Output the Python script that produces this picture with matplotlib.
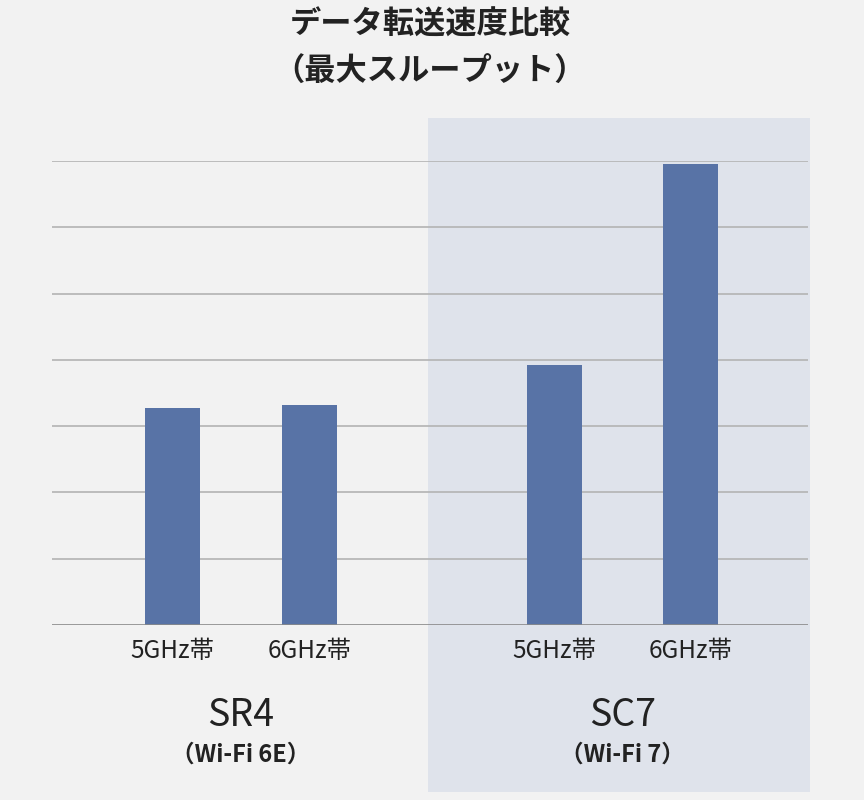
import matplotlib
matplotlib.use("Agg")
import matplotlib.pyplot as plt
from matplotlib.patches import Rectangle

plt.rcParams['font.family'] = ['Noto Sans CJK JP', 'DejaVu Sans']

# Data
title_lines = ["データ転送速度比較", "（最大スループット）"]
groups = ["SR4", "SC7"]
group_sub = ["（Wi-Fi 6E）", "（Wi-Fi 7）"]
bands = ["5GHz帯", "6GHz帯", "5GHz帯", "6GHz帯"]
values = [3.27, 3.32, 3.92, 6.95]   # in grid units
positions = [0.0, 1.0, 2.79, 3.78]

BG = "#f2f2f2"
SHADE = "#dfe3eb"
BAR = "#5873a6"

fig = plt.figure(figsize=(8.64, 8.0), dpi=100, facecolor=BG)
ax = fig.add_axes([52/864, 175/800, 756/864, 464/800])
ax.patch.set_visible(False)
ax.set_zorder(1)

# shaded region behind SC7 (figure coords)
fig.patches.append(Rectangle((428/864, 8/800), 382/864, 674/800,
                             transform=fig.transFigure, facecolor=SHADE,
                             edgecolor='none', zorder=-5))

ax.set_xlim(-0.88, 4.64)
ax.set_ylim(0, 7)
for g in range(1, 8):
    ax.axhline(g, color="#b3b3b3", lw=1.2, zorder=1)
ax.axhline(0, color="#8a8a8a", lw=1.2, zorder=3)

ax.bar(positions, values, width=0.40, color=BAR, zorder=2)

for s in ax.spines.values():
    s.set_visible(False)
ax.set_yticks([])
ax.set_xticks(positions)
ax.set_xticklabels(bands, fontsize=17.5, color="#222222")
ax.tick_params(axis='x', length=0, pad=9)

# group labels
centers = [(positions[0] + positions[1]) / 2, (positions[2] + positions[3]) / 2]
for c, g, sub in zip(centers, groups, group_sub):
    ax.text(c, -1.37, g, ha='center', va='center', fontsize=27,
            color="#222222", transform=ax.transData)
    ax.text(c, -1.95, sub, ha='center', va='center', fontsize=17,
            fontweight='bold', color="#222222", transform=ax.transData)

fig.text(430/864, 1 - 25/800, title_lines[0], ha='center', va='center',
         fontsize=22.5, fontweight='bold', color="#222222")
fig.text(430/864, 1 - 72/800, title_lines[1], ha='center', va='center',
         fontsize=22.5, fontweight='bold', color="#222222")

fig.savefig("out.png", dpi=100, facecolor=BG)
